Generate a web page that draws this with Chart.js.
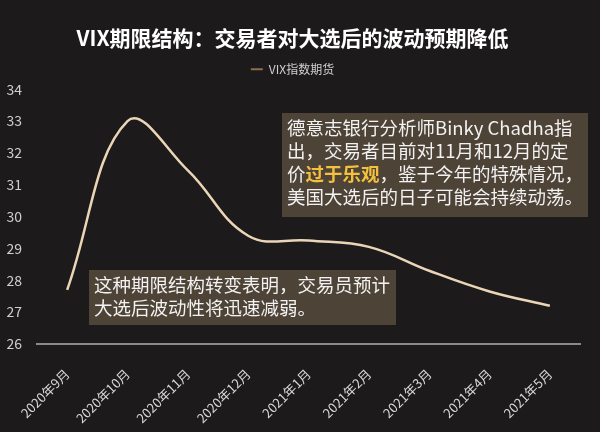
<!DOCTYPE html>
<html>
<head>
<meta charset="utf-8">
<script src="https://cdn.jsdelivr.net/npm/chart.js@4/dist/chart.umd.min.js"></script>
<style>
  body { margin: 0; background: #1d1a1b; }
  .wrap { position: relative; width: 600px; height: 432px; background: #1d1a1b; }
  .note {
    position: absolute;
    background: rgba(82, 70, 58, 0.92);
    color: #f2f2f2;
    font-family: "Noto Sans CJK SC", sans-serif;
    font-size: 18.5px;
    line-height: 23px;
    white-space: nowrap;
    padding: 3px 5px;
    box-sizing: border-box;
  }
  .hl { color: #f4c13f; font-weight: bold; }
</style>
</head>
<body>
<div class="wrap">
  <canvas id="vixChart" width="600" height="432"></canvas>
  <div class="note" style="left:282px; top:113px; width:306px; height:104px;">
    德意志银行分析师Binky Chadha指<br>出，交易者目前对11月和12月的定<br>价<span class="hl">过于乐观</span>，鉴于今年的特殊情况，<br>美国大选后的日子可能会持续动荡。
  </div>
  <div class="note" style="left:89px; top:270px; width:307px; height:55px;">
    这种期限结构转变表明，交易员预计<br>大选后波动性将迅速减弱。
  </div>
</div>
<script>
const months = ["2020年9月", "2020年10月", "2020年11月", "2020年12月", "2021年1月",
                "2021年2月", "2021年3月", "2021年4月", "2021年5月"];
const vixFutures = [27.7, 33.0, 31.45, 29.4, 29.25, 29.05, 28.3, 27.65, 27.2];
const yTicks = [26, 27, 28, 29, 30, 31, 32, 33, 34];

const cjk = "'Noto Sans CJK SC', sans-serif";

// a few extra pixels between the legend and the plot
const legendGap = {
    id: "legendGap",
    beforeLayout(chart) {
        const legend = chart.legend;
        if (legend && !legend._gapWrapped) {
            const fit = legend.fit;
            legend.fit = function () {
                fit.call(this);
                this.height += 4;
            };
            legend._gapWrapped = true;
        }
    }
};

const ctx = document.getElementById("vixChart");
const vixChart = new Chart(ctx, {
    type: "line",
    data: {
        labels: months,
        datasets: [{
            label: "VIX指数期货",
            data: vixFutures,
            borderColor: "#ead6b6",
            borderWidth: 2.5,
            pointRadius: 0,
            fill: false,
            tension: 0.4
        }]
    },
    options: {
        responsive: false,
        animation: false,
        layout: { padding: { top: 25, left: 5, right: 20, bottom: 8 } },
        plugins: {
            title: {
                display: true,
                text: "VIX期限结构：交易者对大选后的波动预期降低",
                color: "#ffffff",
                font: { family: cjk, size: 21, weight: "bold" },
                padding: { top: 0, bottom: 0 }
            },
            legend: {
                labels: {
                    color: "#d0d0d0",
                    font: { family: cjk, size: 12 },
                    boxWidth: 12,
                    boxHeight: 2,
                    padding: 13,
                    generateLabels(chart) {
                        const items = Chart.defaults.plugins.legend.labels.generateLabels(chart);
                        items.forEach(item => {
                            item.fillStyle = "#8d6e50";
                            item.strokeStyle = "#8d6e50";
                            item.lineWidth = 0;
                        });
                        return items;
                    }
                }
            },
            tooltip: { enabled: false }
        },
        scales: {
            x: {
                offset: true,
                grid: { display: false, drawTicks: false },
                border: { display: true, color: "#8a8a8a", width: 2 },
                afterFit(scale) {
                    // let the rotated first label hang under the y axis
                    scale.paddingLeft = 0;
                    scale.paddingRight = 0;
                    scale.height = 80;
                },
                ticks: {
                    color: "#d8d8d8",
                    font: { family: cjk, size: 13 },
                    maxRotation: 45,
                    minRotation: 45,
                    autoSkip: false,
                    padding: 22
                }
            },
            y: {
                min: yTicks[0],
                max: yTicks[yTicks.length - 1],
                grid: { display: false, drawTicks: false },
                border: { display: false },
                afterBuildTicks(axis) {
                    axis.ticks = yTicks.map(v => ({ value: v }));
                },
                afterFit(scale) {
                    scale.width = 32;
                },
                ticks: {
                    color: "#cfcfcf",
                    font: { family: cjk, size: 14 },
                    padding: 15
                }
            }
        }
    },
    plugins: [legendGap]
});
</script>
</body>
</html>
